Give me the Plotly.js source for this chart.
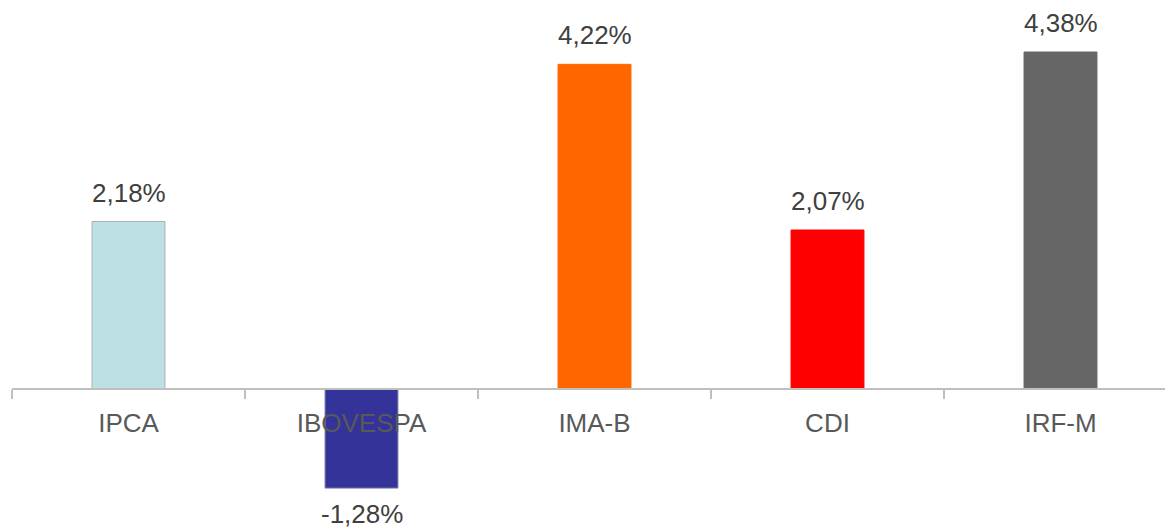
<!DOCTYPE html>
<html>
<head>
<meta charset="utf-8">
<script src="https://cdn.plot.ly/plotly-3.0.1.min.js"></script>
<style>html,body{margin:0;padding:0;background:#fff;}#chart{width:1165px;height:530px;}</style>
</head>
<body>
<div id="chart"></div>
<script>
var categories = ["IPCA", "IBOVESPA", "IMA-B", "CDI", "IRF-M"];
var values = [2.18, -1.28, 4.22, 2.07, 4.38];
var labels = ["2,18%", "-1,28%", "4,22%", "2,07%", "4,38%"];
var colors = ["#BCE0E4", "#333399", "#FF6600", "#FF0000", "#666666"];
var borderColors = ["#B0B0B0", "#8080B0", "#FF6600", "#FF0000", "#666666"];

var trace = {
  type: "bar",
  x: categories,
  y: values,
  width: 0.313,
  marker: { color: colors, line: { color: borderColors, width: 1 } },
  hoverinfo: "none"
};

var annotations = categories.map(function (c, i) {
  var neg = values[i] < 0;
  return {
    x: c, y: values[i], xref: "x", yref: "y",
    text: labels[i], showarrow: false,
    yanchor: neg ? "top" : "bottom",
    yshift: neg ? -9 : 12,
    font: { family: "Liberation Sans, Arial, sans-serif", size: 26, color: "#404040" }
  };
});

var layout = {
  width: 1165, height: 530,
  margin: { l: 12, r: 0, t: 0, b: 0 },
  paper_bgcolor: "#fff", plot_bgcolor: "#fff",
  showlegend: false,
  xaxis: {
    type: "category",
    range: [-0.5, 4.4485],
    anchor: "free", position: 0.2651,
    showline: true, linecolor: "#BFBFBF", linewidth: 2,
    ticks: "outside", tickson: "boundaries", ticklen: 9, tickcolor: "#BFBFBF", tickwidth: 2,
    ticklabelstandoff: 10,
    showgrid: false, zeroline: false,
    tickfont: { family: "Liberation Sans, Arial, sans-serif", size: 26, color: "#595959" },
    layer: "above traces",
    fixedrange: true
  },
  yaxis: {
    range: [-1.8235, 5.055],
    visible: false, showgrid: false, zeroline: false, fixedrange: true
  },
  annotations: annotations,
  font: { family: "Liberation Sans, Arial, sans-serif" }
};

Plotly.newPlot("chart", [trace], layout, { displayModeBar: false, staticPlot: true });
</script>
</body>
</html>
